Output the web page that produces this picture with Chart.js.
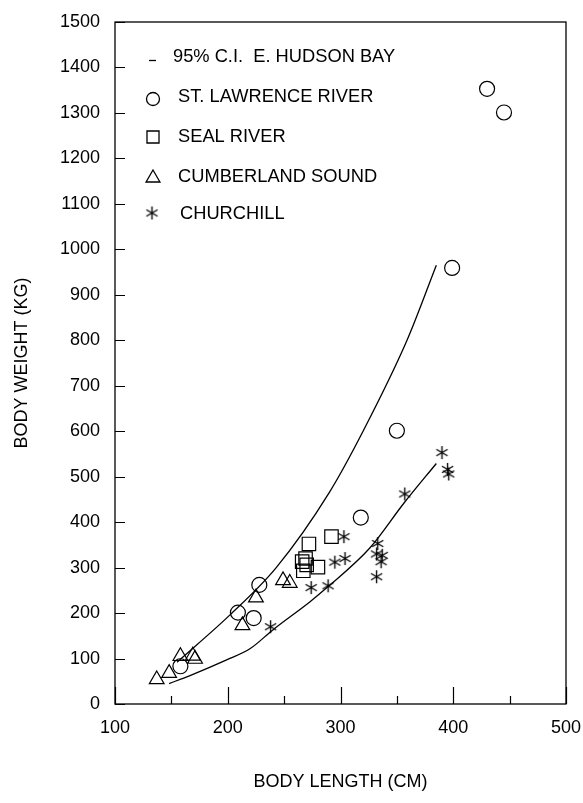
<!DOCTYPE html>
<html><head><meta charset="utf-8">
<script src="https://cdn.jsdelivr.net/npm/chart.js@4.4.1/dist/chart.umd.min.js"></script>
<style>html,body{margin:0;padding:0;background:#fff;}canvas{display:block;}</style>
</head><body>
<canvas id="c" width="583" height="803"></canvas>
<script>
const xTicks = [100, 200, 300, 400, 500];
const xMinorTicks = [150, 250, 350, 450];
const yTicks = [0,100,200,300,400,500,600,700,800,900,1000,1100,1200,1300,1400,1500];

const stLawrenceX = [158, 209, 223, 228, 318, 350, 399, 430, 445];
const stLawrenceY = [83, 201, 189, 262, 410, 601, 959, 1353, 1301];

const sealX = [266, 269, 270, 267, 272, 280, 292];
const sealY = [313, 320, 306, 293, 352, 301, 368];

const cumberlandX = [137, 148, 158, 169, 171, 213, 225, 249, 255];
const cumberlandY = [54, 68, 105, 106, 99, 173, 234, 272, 266];

const churchillX = [238, 274, 289, 295, 304, 303, 333, 332, 337, 336, 332, 357, 390, 395, 396];
const churchillY = [170, 256, 260, 312, 320, 368, 353, 330, 327, 313, 280, 462, 553, 516, 506];

const ciUpperX = [155, 202, 243, 290, 320, 359, 385];
const ciUpperY = [92, 196, 300, 465, 600, 800, 965];

const ciLowerX = [148, 166, 199, 220, 240, 273, 288, 326, 356, 385];
const ciLowerY = [45, 62, 97, 122, 163, 225, 256, 343, 441, 529];

const legendLabels = ['95% C.I.  E. HUDSON BAY', 'ST. LAWRENCE RIVER', 'SEAL RIVER', 'CUMBERLAND SOUND', 'CHURCHILL'];

const FONT = "'Liberation Sans', Arial, Helvetica, sans-serif";
const zip = (xs, ys) => xs.map((x, i) => ({x: x, y: ys[i]}));

// asterisk point style (6 arms)
const asterisk = document.createElement('canvas');
asterisk.width = 15; asterisk.height = 15;
(function(){
  const a = asterisk.getContext('2d');
  a.strokeStyle = '#000'; a.lineWidth = 1.35;
  const cx = 7.5, cy = 7.5, r = 6.5;
  [90, 30, 150].forEach(function(ang){
    const t = ang * Math.PI / 180;
    a.beginPath();
    a.moveTo(cx - r * Math.cos(t), cy - r * Math.sin(t));
    a.lineTo(cx + r * Math.cos(t), cy + r * Math.sin(t));
    a.stroke();
  });
})();

const markerBase = {showLine: false, pointBorderColor: '#000', pointBackgroundColor: 'rgba(0,0,0,0)', pointBorderWidth: 1.2, borderColor: '#000', backgroundColor: 'rgba(0,0,0,0)'};

const boxTicks = {
  id: 'boxTicks',
  afterDraw(chart) {
    const ctx = chart.ctx, a = chart.chartArea;
    const xs = chart.scales.x, ys = chart.scales.y;
    ctx.save();
    ctx.strokeStyle = '#000';
    ctx.lineWidth = 1.3;
    ctx.strokeRect(a.left, a.top, a.right - a.left, a.bottom - a.top);
    ctx.lineWidth = 1.2;
    ctx.beginPath();
    yTicks.forEach(function(v){
      const y = Math.round(ys.getPixelForValue(v)) + 0.5;
      ctx.moveTo(a.left, y); ctx.lineTo(a.left + 10, y);
    });
    xTicks.forEach(function(v){
      const x = Math.round(xs.getPixelForValue(v)) + 0.5;
      ctx.moveTo(x, a.bottom); ctx.lineTo(x, a.bottom - 17);
    });
    xMinorTicks.forEach(function(v){
      const x = Math.round(xs.getPixelForValue(v)) + 0.5;
      ctx.moveTo(x, a.bottom); ctx.lineTo(x, a.bottom - 8);
    });
    ctx.stroke();

    // legend
    ctx.fillStyle = '#000';
    ctx.font = '18.3px ' + FONT;
    ctx.textBaseline = 'middle';
    ctx.textAlign = 'left';
    ctx.lineWidth = 1.3;
    ctx.beginPath(); ctx.moveTo(149, 60.5); ctx.lineTo(156, 60.5); ctx.stroke();
    ctx.fillText(legendLabels[0], 173, 57);
    const H = Chart.helpers;
    ctx.fillStyle = 'rgba(0,0,0,0)';
    H.drawPoint(ctx, {pointStyle: 'circle', radius: 6.5, rotation: 0, borderWidth: 1.2}, 153, 99);
    H.drawPoint(ctx, {pointStyle: 'rect', radius: 8.5, rotation: 0, borderWidth: 1.2}, 153, 137);
    H.drawPoint(ctx, {pointStyle: 'triangle', radius: 8, rotation: 0, borderWidth: 1.2}, 153, 178);
    ctx.drawImage(asterisk, 152 - 7.5, 213 - 7.5);
    ctx.fillStyle = '#000';
    ctx.fillText(legendLabels[1], 178, 97);
    ctx.fillText(legendLabels[2], 178, 137);
    ctx.fillText(legendLabels[3], 178, 177);
    ctx.fillText(legendLabels[4], 180, 214);
    ctx.restore();
  }
};

new Chart(document.getElementById('c'), {
  type: 'scatter',
  data: {
    datasets: [
      Object.assign({label: legendLabels[1], data: zip(stLawrenceX, stLawrenceY), pointStyle: 'circle', pointRadius: 7.5}, markerBase),
      Object.assign({label: legendLabels[2], data: zip(sealX, sealY), pointStyle: 'rect', pointRadius: 9.5}, markerBase),
      Object.assign({label: legendLabels[3], data: zip(cumberlandX, cumberlandY), pointStyle: 'triangle', pointRadius: 8.5}, markerBase),
      Object.assign({label: legendLabels[4], data: zip(churchillX, churchillY), pointStyle: asterisk, pointRadius: 7}, markerBase),
      {label: 'CI upper', data: zip(ciUpperX, ciUpperY), showLine: true, pointRadius: 0, borderColor: '#000', borderWidth: 1.3, cubicInterpolationMode: 'monotone', fill: false},
      {label: 'CI lower', data: zip(ciLowerX, ciLowerY), showLine: true, pointRadius: 0, borderColor: '#000', borderWidth: 1.3, cubicInterpolationMode: 'monotone', fill: false}
    ]
  },
  options: {
    responsive: false,
    animation: false,
    devicePixelRatio: 1,
    layout: {padding: {top: 22, right: 17, left: 0, bottom: 0}},
    plugins: {legend: {display: false}, tooltip: {enabled: false}},
    scales: {
      x: {
        type: 'linear', min: 100, max: 500,
        afterBuildTicks: function(s){ s.ticks = xTicks.map(function(v){ return {value: v}; }); },
        afterFit: function(s){ s.height = 99; s.paddingLeft = 0; s.paddingRight = 0; },
        grid: {display: false, drawTicks: false},
        border: {display: false},
        ticks: {color: '#000', font: {family: FONT, size: 18}, padding: 13, maxRotation: 0, callback: function(v){ return String(v); }},
        title: {display: true, text: 'BODY LENGTH (CM)', color: '#000', font: {family: FONT, size: 18}, padding: {top: 0, bottom: 10}}
      },
      y: {
        type: 'linear', min: 0, max: 1500,
        afterBuildTicks: function(s){ s.ticks = yTicks.map(function(v){ return {value: v}; }); },
        afterFit: function(s){ s.width = 115; s.paddingTop = 0; s.paddingBottom = 0; },
        grid: {display: false, drawTicks: false},
        border: {display: false},
        ticks: {color: '#000', font: {family: FONT, size: 18}, padding: 15, callback: function(v){ return String(v); }},
        title: {display: true, text: 'BODY WEIGHT (KG)', color: '#000', font: {family: FONT, size: 18}, padding: {top: 11, bottom: 0}}
      }
    }
  },
  plugins: [boxTicks]
});
</script>
</body></html>
